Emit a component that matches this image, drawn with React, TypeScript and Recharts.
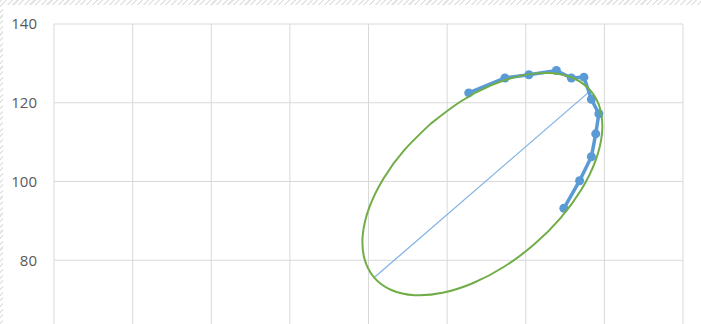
import { ScatterChart, Scatter, XAxis, YAxis, ZAxis, CartesianGrid } from 'recharts';

// measured series, in plotting order
const seriesX = [105.5, 114.7, 120.8, 127.8, 131.6, 134.8, 136.7, 138.6, 137.8, 136.7, 133.7, 129.7];
const seriesY = [122.5, 126.3, 127.1, 128.2, 126.3, 126.5, 120.9, 117.2, 112.1, 106.3, 100.2, 93.2];

// fitted ellipse outline, starting and ending at the upper-left flank
const ellipseX = [95.77, 89.1, 83.78, 80.18, 78.54, 78.97, 81.45, 85.81, 91.74, 98.84, 106.64, 114.6, 122.17, 128.84, 134.16, 137.76, 139.4, 138.97, 136.49, 132.13, 126.2, 119.1, 111.3, 103.34, 95.77];
const ellipseY = [114.64, 107.98, 100.72, 93.37, 86.43, 80.37, 75.6, 72.45, 71.13, 71.73, 74.22, 78.42, 84.04, 90.7, 97.96, 105.31, 112.25, 118.31, 123.08, 126.23, 127.55, 126.95, 124.46, 120.26, 114.64];

// major axis of the ellipse
const axisX = [81.45, 136.49];
const axisY = [75.6, 123.08];

const xTicks = [0, 20, 40, 60, 80, 100, 120, 140, 160];
const yTicks = [80, 100, 120, 140];

const zip = (xs: number[], ys: number[]) => xs.map((x, i) => ({ x, y: ys[i] }));

const seriesData = zip(seriesX, seriesY);
const ellipseData = zip(ellipseX, ellipseY);
const axisData = zip(axisX, axisY);

const noMarker = () => <g />;
// x labels sit below the visible area; keep the ticks for the grid only
const noTick = () => <g />;

export default function App() {
  return (
    <div
      style={{
        position: 'fixed',
        top: 0,
        left: 0,
        width: 701,
        height: 324,
        overflow: 'hidden',
        background:
          'repeating-linear-gradient(135deg, #e4e4e4 0px, #e4e4e4 1.5px, #ffffff 1.5px, #ffffff 4px)',
      }}
    >
      <div style={{ position: 'absolute', left: 3, top: 5, right: 0, bottom: 0, background: '#fff' }} />
      <div style={{ position: 'absolute', left: 0, top: 0 }}>
        <ScatterChart
          width={701}
          height={370}
          margin={{ top: 24, right: 18, bottom: 0, left: 0 }}
          style={{ fontFamily: '"Open Sans", sans-serif' }}
        >
          <CartesianGrid stroke="#d9d9d9" strokeWidth={1} />
          <XAxis
            type="number"
            dataKey="x"
            domain={[0, 160]}
            ticks={xTicks}
            height={31}
            axisLine={false}
            tickLine={false}
            tick={noTick}
          />
          <YAxis
            type="number"
            dataKey="y"
            domain={[60, 140]}
            ticks={yTicks}
            width={54}
            axisLine={false}
            tickLine={false}
            tickSize={0}
            tickMargin={17}
            tick={{ fill: '#595959', fontSize: 15 }}
          />
          <ZAxis range={[85, 85]} />
          <Scatter
            data={axisData}
            line={{ stroke: '#7fb2e2', strokeWidth: 1.25 }}
            lineJointType="linear"
            shape={noMarker}
            isAnimationActive={false}
          />
          <Scatter
            data={seriesData}
            fill="#5b9bd5"
            line={{ stroke: '#5b9bd5', strokeWidth: 3.5 }}
            lineJointType="linear"
            shape="circle"
            isAnimationActive={false}
          />
          <Scatter
            data={ellipseData}
            line={{ stroke: '#70ad47', strokeWidth: 2 }}
            lineJointType="natural"
            shape={noMarker}
            isAnimationActive={false}
          />
        </ScatterChart>
      </div>
    </div>
  );
}
